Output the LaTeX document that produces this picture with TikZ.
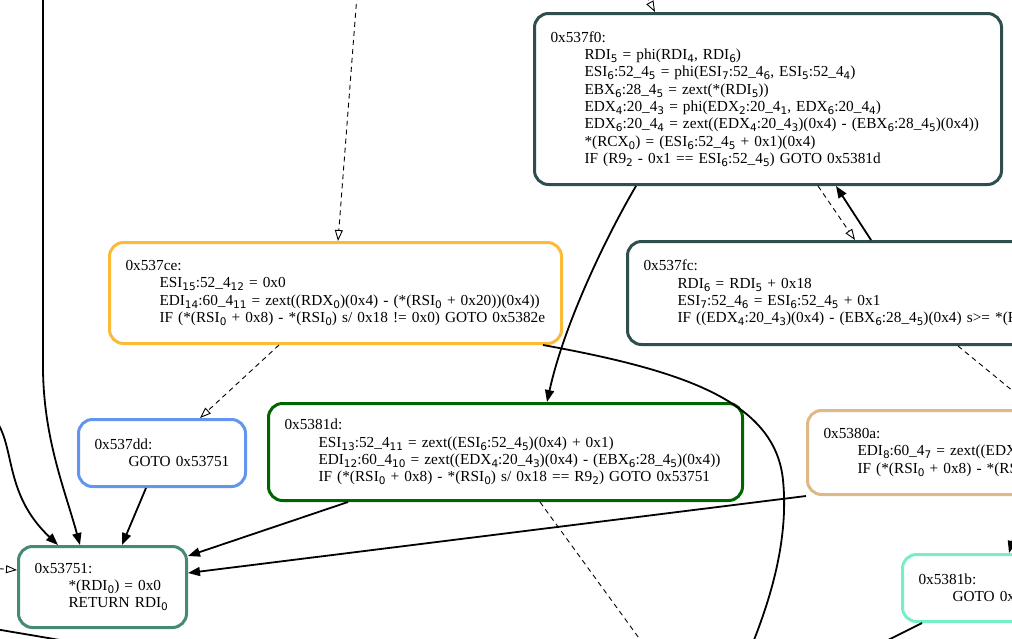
\documentclass[tikz,border=0pt]{standalone}
\usepackage{fontspec}
\setmainfont{Liberation Serif}
\newfontfamily\subfont{DejaVu Sans}
\usepackage{tikz}
\usetikzlibrary{arrows.meta}
\definecolor{slategr}{RGB}{47,79,79}
\definecolor{goldbox}{RGB}{251,186,55}
\definecolor{greenbox}{RGB}{0,100,0}
\definecolor{bluebox}{RGB}{100,149,237}
\definecolor{tealbox}{RGB}{69,139,116}
\definecolor{tanbox}{RGB}{222,184,135}
\definecolor{aquabox}{RGB}{118,238,198}
\newcommand{\ind}{\hspace*{34pt}}
\newcommand{\sbs}[1]{\raisebox{-3pt}{\subfont\fontsize{10.5}{10}\selectfont #1}}

\begin{document}
\begin{tikzpicture}[x=1pt, y=-1pt,
  bb/.style={draw=#1, line width=3pt, rounded corners=14pt, fill=white,
    inner xsep=16pt, inner ysep=0pt, align=left, anchor=north west,
    font=\fontsize{15.3}{17.3}\selectfont},
  edge/.style={line width=1.8pt, -{Triangle[length=12pt, width=9pt]}},
  dedge/.style={line width=0.9pt, dash pattern=on 5pt off 4pt,
    -{Triangle[open, length=11pt, width=8pt]}}]
\useasboundingbox (0,0) rectangle (1012,638);
\clip (0,0) rectangle (1012,638);

% basic blocks
\node[bb=slategr, text width=435pt, minimum height=171pt] (f0) at (533,12) {0x537f0:\\
\ind RDI\sbs{5} = phi(RDI\sbs{4}, RDI\sbs{6})\\
\ind ESI\sbs{6}:52\_4\sbs{5} = phi(ESI\sbs{7}:52\_4\sbs{6}, ESI\sbs{5}:52\_4\sbs{4})\\
\ind EBX\sbs{6}:28\_4\sbs{5} = zext(*(RDI\sbs{5}))\\
\ind EDX\sbs{4}:20\_4\sbs{3} = phi(EDX\sbs{2}:20\_4\sbs{1}, EDX\sbs{6}:20\_4\sbs{4})\\
\ind EDX\sbs{6}:20\_4\sbs{4} = zext((EDX\sbs{4}:20\_4\sbs{3})(0x4) - (EBX\sbs{6}:28\_4\sbs{5})(0x4))\\
\ind *(RCX\sbs{0}) = (ESI\sbs{6}:52\_4\sbs{5} + 0x1)(0x4)\\
\ind IF (R9\sbs{2} - 0x1 == ESI\sbs{6}:52\_4\sbs{5}) GOTO 0x5381d};

\node[bb=goldbox, text width=420pt, minimum height=101pt] (ce) at (108,241) {0x537ce:\\
\ind ESI\sbs{15}:52\_4\sbs{12} = 0x0\\
\ind EDI\sbs{14}:60\_4\sbs{11} = zext((RDX\sbs{0})(0x4) - (*(RSI\sbs{0} + 0x20))(0x4))\\
\ind IF (*(RSI\sbs{0} + 0x8) - *(RSI\sbs{0}) s/ 0x18 != 0x0) GOTO 0x5382e};

\node[bb=slategr, text width=470pt, minimum height=103pt] (fc) at (626,240) {0x537fc:\\
\ind RDI\sbs{6} = RDI\sbs{5} + 0x18\\
\ind ESI\sbs{7}:52\_4\sbs{6} = ESI\sbs{6}:52\_4\sbs{5} + 0x1\\
\ind IF ((EDX\sbs{4}:20\_4\sbs{3})(0x4) - (EBX\sbs{6}:28\_4\sbs{5})(0x4) s>= *(R};

\node[bb=greenbox, text width=442pt, minimum height=97pt] (1d) at (267,402) {0x5381d:\\
\ind ESI\sbs{13}:52\_4\sbs{11} = zext((ESI\sbs{6}:52\_4\sbs{5})(0x4) + 0x1)\\
\ind EDI\sbs{12}:60\_4\sbs{10} = zext((EDX\sbs{4}:20\_4\sbs{3})(0x4) - (EBX\sbs{6}:28\_4\sbs{5})(0x4))\\
\ind IF (*(RSI\sbs{0} + 0x8) - *(RSI\sbs{0}) s/ 0x18 == R9\sbs{2}) GOTO 0x53751};

\node[bb=bluebox, text width=135pt, minimum height=67pt] (dd) at (77,418) {0x537dd:\\
\ind GOTO 0x53751};

\node[bb=tealbox, text width=136pt, minimum height=81pt] (751) at (17,545) {0x53751:\\
\ind *(RDI\sbs{0}) = 0x0\\
\ind RETURN RDI\sbs{0}};

\node[bb=tanbox, text width=370pt, minimum height=84pt] (0a) at (806,409) {0x5380a:\\
\ind EDI\sbs{8}:60\_4\sbs{7} = zext((EDX\\
\ind IF (*(RSI\sbs{0} + 0x8) - *(RS};

\node[bb=aquabox, text width=170pt, minimum height=67pt] (1b) at (901,553) {0x5381b:\\
\ind GOTO 0x};

% free ends outside the frame
\coordinate (inA) at (357,-5);
\coordinate (inB) at (638,-20);
\coordinate (inL) at (43,-5);
\coordinate (inG) at (-3,422);
\coordinate (inH) at (-10,568);
\coordinate (inK) at (1030,480);
\coordinate (outC) at (1030,405);
\coordinate (outD) at (752,645);
\coordinate (outE) at (644,645);
\coordinate (outF) at (60,640);
\coordinate (outF0) at (-5,629);
\coordinate (outH) at (884,642);

% connectors
\draw[dedge] (inA) -- ([xshift=230pt]ce.north west);
\draw[dedge] (inB) -- ([xshift=122pt]f0.north west);
\draw[edge] ([xshift=103pt]f0.south west) .. controls (610,230) and (565,320) .. ([xshift=280pt]1d.north west);
\draw[dedge] ([xshift=285pt]f0.south west) -- ([xshift=229pt]fc.north west);
\draw[edge] ([xshift=245pt]fc.north west) -- ([xshift=303pt]f0.south west);
\draw[dedge, -] ([xshift=332pt]fc.south west) -- (outC);
\draw[dedge] ([xshift=171pt]ce.south west) -- ([xshift=123pt]dd.north west);
\draw[line width=1.8pt] ([xshift=435pt]ce.south west) .. controls (680,370) and (775,400) .. (783,480)
  .. controls (789,540) and (770,600) .. (outD);
\draw[edge] ([xshift=69pt]dd.south west) -- ([xshift=105pt]751.north west);
\draw[edge] ([xshift=81pt]1d.south west) -- ([yshift=-11pt]751.north east);
\draw[edge] (0a.south west) -- ([yshift=-28pt]751.north east);
\draw[dedge, -] ([xshift=273pt]1d.south west) -- (outE);
\draw[edge] (inL) -- (43,370) .. controls (44,440) and (65,490) .. ([xshift=63pt]751.north west);
\draw[edge] (inG) .. controls (15,450) and (5,495) .. ([xshift=41pt]751.north west);
\draw[dedge] (inH) -- ([yshift=17pt]751.west);
\draw[line width=1.8pt] (outF0) -- (outF);
\draw[line width=1.8pt] ([xshift=21pt]1b.south west) -- (outH);
\draw[edge] (inK) -- ([xshift=108pt]1b.north west);
\end{tikzpicture}
\end{document}
